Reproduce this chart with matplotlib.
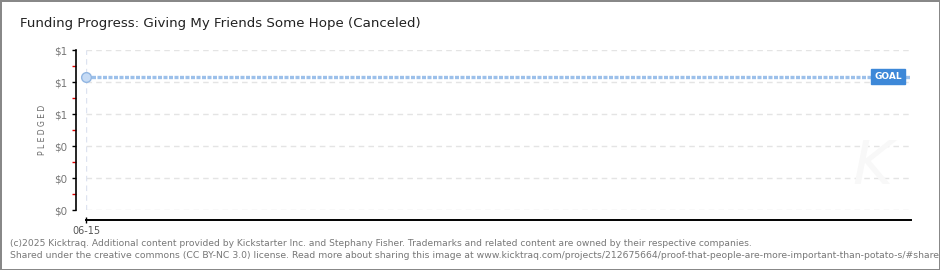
import matplotlib
matplotlib.use('Agg')
import matplotlib.pyplot as plt
from matplotlib.ticker import FuncFormatter

# данные графика
dates = ['06-15']
pledged = [1]
goal = 1
y_ticks = [0, 0.24, 0.48, 0.72, 0.96, 1.2]
title = "Funding Progress: Giving My Friends Some Hope (Canceled)"
footer1 = ("(c)2025 Kicktraq. Additional content provided by Kickstarter Inc. and Stephany Fisher. "
           "Trademarks and related content are owned by their respective companies.")
footer2 = ("Shared under the creative commons (CC BY-NC 3.0) license. Read more about sharing this image at "
           "www.kicktraq.com/projects/212675664/proof-that-people-are-more-important-than-potato-s/#share")

W, H = 940, 270
fig = plt.figure(figsize=(W / 100, H / 100), dpi=100, facecolor='white',
                 edgecolor='#888888', linewidth=2)
ax = fig.add_axes([86 / W, 1 - 210 / H, (911 - 86) / W, 160 / H])

x = list(range(len(dates)))
ax.set_xlim(0, 1)
ax.set_ylim(y_ticks[0], y_ticks[-1])

# сетка
for t in y_ticks:
    ax.axhline(t, color='#e4e4e4', lw=1, ls=(0, (4, 3)), zorder=0)
ax.axvline(x[0], color='#dde3f0', lw=1, ls=(0, (4, 3)), zorder=0)

# цель и собранные средства
ax.axhline(goal, color='#9cc0ea', lw=2.4, ls=(0, (1.2, 0.45)), zorder=2)
ax.plot(x, pledged, 'o', ms=7, mfc='#c6dbf5', mec='#92b6e2', mew=1, zorder=3, clip_on=False)
ax.annotate('GOAL', xy=(1, goal), xycoords=('axes fraction', 'data'),
            xytext=(-23, 0), textcoords='offset pixels', ha='center', va='center',
            fontsize=6.5, color='white', fontweight='bold',
            bbox=dict(boxstyle='square,pad=0.3', fc='#3d88d8', ec='#3d88d8'), zorder=4)

# оси
for s in ['top', 'right']:
    ax.spines[s].set_visible(False)
ax.spines['left'].set_position(('outward', 7.2))
ax.spines['bottom'].set_position(('outward', 7.2))
ax.spines['left'].set_linewidth(1.2)
ax.spines['bottom'].set_linewidth(1.4)

ax.set_yticks(y_ticks)
ax.yaxis.set_major_formatter(FuncFormatter(lambda v, p: f"${v:.0f}"))
ax.set_yticks([(a + b) / 2 for a, b in zip(y_ticks[:-1], y_ticks[1:])], minor=True)
ax.tick_params(axis='y', which='major', length=3, width=1, colors='black',
               labelcolor='#777777', labelsize=7.5, pad=3)
ax.tick_params(axis='y', which='minor', length=3, width=1, color='#dd0000')
ax.set_xticks(x)
ax.set_xticklabels(dates)
ax.tick_params(axis='x', length=4, width=1, direction='inout',
               labelcolor='#555555', labelsize=7, pad=2)
ax.set_ylabel('P L E D G E D', fontsize=5.5, color='#666666', labelpad=5)

fig.text(20 / W, 1 - 24 / H, title, fontsize=9.6, color='#222222', va='center')
fig.text(10 / W, 1 - 243 / H, footer1, fontsize=6.6, color='#777777', va='center')
fig.text(10 / W, 1 - 256 / H, footer2, fontsize=6.7, color='#777777', va='center')
fig.text(872 / W, 1 - 168 / H, 'K', fontsize=44, color='#f8f8f8', style='italic',
         ha='center', va='center', zorder=0)

plt.savefig('out.png', dpi=100)
